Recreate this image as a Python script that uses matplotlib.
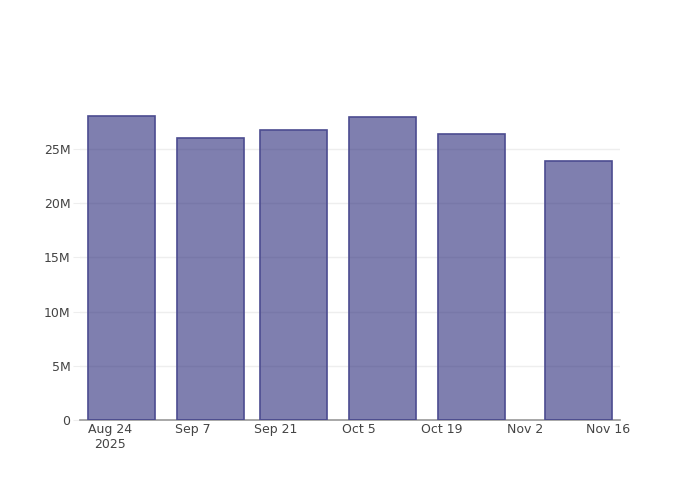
import datetime as dt
import matplotlib
matplotlib.use("Agg")
import matplotlib.pyplot as plt
from matplotlib.ticker import FuncFormatter

# bar dates and values
dates = ["2025-08-26", "2025-09-10", "2025-09-24", "2025-10-09", "2025-10-24", "2025-11-11"]
values = [28.05e6, 26.0e6, 26.7e6, 27.9e6, 26.4e6, 23.9e6]

tick_dates = ["2025-08-24", "2025-09-07", "2025-09-21", "2025-10-05", "2025-10-19", "2025-11-02", "2025-11-16"]
tick_labels = ["Aug 24\n2025", "Sep 7", "Sep 21", "Oct 5", "Oct 19", "Nov 2", "Nov 16"]

x = [dt.datetime.fromisoformat(d) for d in dates]
xt = [dt.datetime.fromisoformat(d) for d in tick_dates]

gap = 14  # smallest gap in days
fig = plt.figure(figsize=(7, 5), dpi=100)
ax = fig.add_axes([80 / 700, 80 / 500, 540 / 700, 320 / 500])

ax.bar(x, values, width=0.8 * gap, color=(42 / 255, 42 / 255, 122 / 255, 0.6),
       edgecolor="#4c4c90", linewidth=1.2, zorder=3)

ax.set_xlim(x[0] - dt.timedelta(days=gap / 2), x[-1] + dt.timedelta(days=gap / 2))
ax.set_ylim(0, max(values) * 1.052)

ax.set_xticks(xt)
ax.set_xticklabels(tick_labels, fontsize=9, color="#444444")
ax.tick_params(axis="x", length=0, pad=2)

ax.set_yticks([0, 5e6, 10e6, 15e6, 20e6, 25e6])
ax.yaxis.set_major_formatter(FuncFormatter(lambda v, p: "0" if v == 0 else f"{v / 1e6:.0f}M"))
ax.tick_params(axis="y", length=5, color="#eeeeee", labelsize=9, labelcolor="#444444", pad=2)
ax.grid(axis="y", color="#eeeeee", linewidth=1, zorder=0)

for s in ["top", "right", "left"]:
    ax.spines[s].set_visible(False)
ax.spines["bottom"].set_color("#999999")
ax.spines["bottom"].set_linewidth(1.2)

fig.savefig("out.png", dpi=100)
